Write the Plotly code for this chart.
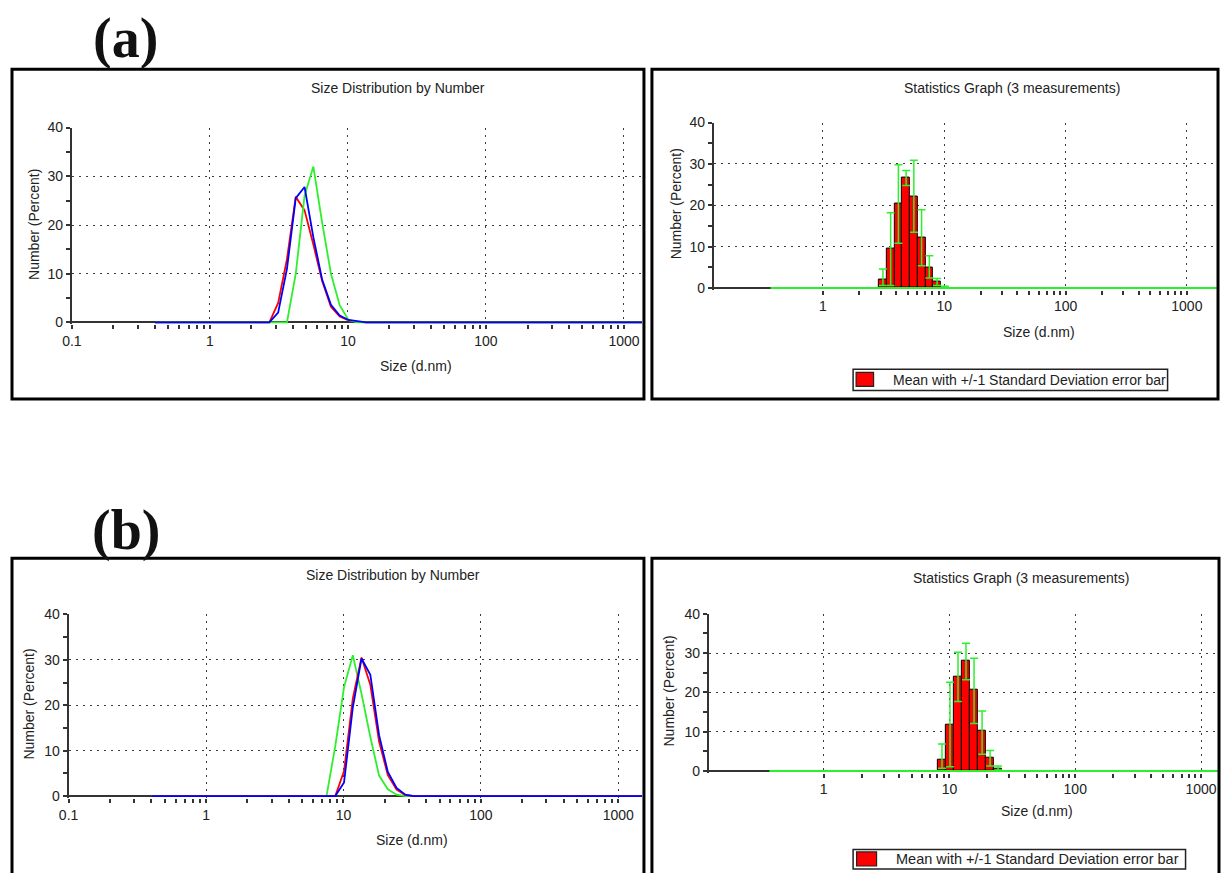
import numpy as np
import plotly.graph_objects as go

# ---------------- data ----------------
# (a) Size distribution by number, three runs
A_SIZES = [0.4, 2.696, 3.122, 3.615, 4.187, 4.849, 5.615, 6.503, 7.531, 8.721, 10.1, 11.7, 13.54, 10000]
A_RED   = [0, 0, 4.0, 13.0, 25.8, 23.0, 16.0, 8.5, 3.2, 1.2, 0.4, 0.1, 0, 0]
A_GREEN = [0, 0, 0, 0, 10.0, 26.0, 32.0, 20.5, 10.0, 3.5, 0.5, 0, 0, 0]
A_BLUE  = [0, 0, 2.0, 11.0, 25.5, 27.8, 17.5, 8.8, 3.6, 1.4, 0.5, 0.2, 0, 0]

# (b) Size distribution by number, three runs
B_SIZES = [0.4, 6.503, 7.531, 8.721, 10.1, 11.7, 13.54, 15.69, 18.17, 21.04, 24.36, 28.21, 32.67, 10000]
B_GREEN = [0, 0, 0, 11.0, 24.0, 31.0, 22.5, 13.0, 4.5, 1.5, 0.3, 0, 0, 0]
B_RED   = [0, 0, 0, 0, 5.5, 21.5, 30.5, 24.5, 12.0, 4.6, 1.4, 0.2, 0, 0]
B_BLUE  = [0, 0, 0, 0, 3.0, 19.5, 30.3, 26.7, 13.4, 5.3, 1.8, 0.3, 0, 0]

# Statistics graphs: mean of 3 measurements with +/- 1 SD
A_STAT_SIZES = [3.122, 3.615, 4.187, 4.849, 5.615, 6.503, 7.531, 8.721, 10.1]
A_STAT_MEAN  = [2.0, 9.5, 20.3, 26.6, 22.2, 12.3, 5.0, 1.5, 0.2]
A_STAT_PLUS  = [2.6, 8.7, 9.5, 1.8, 8.7, 6.6, 2.8, 0.8, 0.2]
A_STAT_MINUS = [1.4, 8.9, 9.5, 1.8, 8.7, 6.9, 2.6, 0.9, 0.2]

B_STAT_SIZES = [8.721, 10.1, 11.7, 13.54, 15.69, 18.17, 21.04, 24.36]
B_STAT_MEAN  = [2.8, 11.9, 24.0, 28.1, 20.6, 10.2, 3.4, 0.7]
B_STAT_PLUS  = [4.1, 10.7, 6.2, 4.4, 8.1, 5.1, 1.8, 0.6]
B_STAT_MINUS = [2.1, 10.8, 6.3, 4.9, 8.5, 5.9, 2.1, 0.4]

BASELINE_SIZES = [0.37, 10000]
BASELINE_VALUES = [0, 0]

LOG_TICKS = [0.1, 1, 10, 100, 1000]
LOG_TICK_TEXT = ["0.1", "1", "10", "100", "1000"]
STAT_TICKS = [1, 10, 100, 1000]
STAT_TICK_TEXT = ["1", "10", "100", "1000"]
Y_TICKS = [0, 10, 20, 30, 40]
Y_MINOR = [5, 15, 25, 35]
MINOR_LEFT = [m * d for d in (0.1, 1, 10, 100, 1000) for m in range(2, 10)]
MINOR_RIGHT = [m * d for d in (1, 10, 100, 1000) for m in range(2, 10)]

# ---------------- layout helpers ----------------
W, H = 1221, 873
OFF = 8.0              # page offset of the plot in the photographed page
PW, PH = W - OFF, H - 2 * OFF
def PX(px):
    return (px - OFF) / PW
def PY(py):
    return 1 - (py - OFF) / PH

FONT = "Liberation Sans, Arial, sans-serif"
TXT = "#222222"
RED, GREEN, BLUE = "#ff0000", "#2df02d", "#0000ff"
AX = "#333333"
YPAD = 0.4  # small pad below zero so lines on y=0 are not clipped

fig = go.Figure()

panels = {
    "1": dict(xl=70.0, xr=641.0, lo=-1.0, hi=-1 + (641.0 - 70.0) / 138.25, y0=321.7, y40=127.3, kind="log"),
    "2": dict(xl=713.0, xr=1218.0, lo=(713.0 - 822.3) / 121.5, hi=(1218.0 - 822.3) / 121.5, y0=287.3, y40=122.3, kind="lin"),
    "3": dict(xl=66.7, xr=641.0, lo=-1.0, hi=-1 + (641.0 - 66.7) / 137.65, y0=794.2, y40=613.0, kind="log"),
    "4": dict(xl=708.0, xr=1219.0, lo=(708.0 - 823.0) / 126.0, hi=(1219.0 - 823.0) / 126.0, y0=769.3, y40=612.3, kind="lin"),
}

def axis_names(k):
    return ("x" if k == "1" else "x" + k), ("y" if k == "1" else "y" + k)

layout_axes = {}
for k, p in panels.items():
    unit = (p["y0"] - p["y40"]) / 40.0
    ybottom = p["y0"] + YPAD * unit
    xa_name = "xaxis" if k == "1" else "xaxis" + k
    ya_name = "yaxis" if k == "1" else "yaxis" + k
    xn, yn = axis_names(k)
    common_x = dict(
        domain=[PX(p["xl"]), min(1.0, PX(p["xr"]))], anchor=yn, showline=False, zeroline=False,
        ticks="outside", ticklen=4, tickwidth=2, tickcolor=AX, ticklabeloverflow="allow",
        showgrid=True, gridcolor="#3c3c3c", gridwidth=1, griddash="2px,5px",
        tickfont=dict(family=FONT, size=14, color=TXT), layer="below traces", fixedrange=True,
    )
    hi = p["hi"]
    if PX(p["xr"]) > 1.0:
        hi = p["lo"] + (p["hi"] - p["lo"]) * (1.0 - PX(p["xl"])) / (PX(p["xr"]) - PX(p["xl"]))
    if p["kind"] == "log":
        common_x.update(type="log", range=[p["lo"], hi], tickvals=LOG_TICKS, ticktext=LOG_TICK_TEXT,
                        minor=dict(tickvals=MINOR_LEFT, ticks="outside", ticklen=4, tickwidth=2,
                                   tickcolor=AX, showgrid=False))
    else:
        common_x.update(type="linear", range=[p["lo"], hi],
                        tickvals=list(np.log10(STAT_TICKS)), ticktext=STAT_TICK_TEXT,
                        minor=dict(tickvals=list(np.log10(MINOR_RIGHT)), ticks="outside", ticklen=4,
                                   tickwidth=2, tickcolor=AX, showgrid=False))
    layout_axes[xa_name] = common_x
    layout_axes[ya_name] = dict(
        domain=[PY(ybottom), PY(p["y40"])], anchor=xn, range=[-YPAD, 40],
        tickvals=Y_TICKS, showline=True, linecolor=AX, linewidth=2,
        zeroline=True, zerolinecolor=AX, zerolinewidth=2,
        ticks="outside", ticklen=4, tickwidth=2, tickcolor=AX,
        minor=dict(tickvals=Y_MINOR, ticks="outside", ticklen=4, tickwidth=2, tickcolor=AX, showgrid=False),
        showgrid=True, gridcolor="#3c3c3c", gridwidth=1, griddash="2px,5px",
        tickfont=dict(family=FONT, size=14, color=TXT), layer="below traces", fixedrange=True,
    )

# ---------------- traces ----------------
def add_dist(k, sizes, series):
    xn, yn = axis_names(k)
    for vals, col in series:
        fig.add_trace(go.Scatter(x=sizes, y=vals, mode="lines", xaxis=xn, yaxis=yn,
                                 line=dict(color=col, width=1.8), showlegend=False, hoverinfo="skip"))

add_dist("1", A_SIZES, [(A_RED, RED), (A_GREEN, GREEN), (A_BLUE, BLUE)])
add_dist("3", B_SIZES, [(B_GREEN, GREEN), (B_RED, RED), (B_BLUE, BLUE)])

def add_stats(k, sizes, mean, plus, minus):
    xn, yn = axis_names(k)
    fig.add_trace(go.Scatter(x=np.log10(BASELINE_SIZES), y=BASELINE_VALUES, mode="lines",
                             xaxis=xn, yaxis=yn, line=dict(color=GREEN, width=2),
                             showlegend=False, hoverinfo="skip"))
    fig.add_trace(go.Bar(x=np.log10(sizes), y=mean, width=0.0637, xaxis=xn, yaxis=yn,
                         marker=dict(color=RED, line=dict(color="black", width=1)),
                         error_y=dict(type="data", symmetric=False, array=plus, arrayminus=minus,
                                      color=GREEN, thickness=1.5, width=4),
                         showlegend=False, hoverinfo="skip"))

add_stats("2", A_STAT_SIZES, A_STAT_MEAN, A_STAT_PLUS, A_STAT_MINUS)
add_stats("4", B_STAT_SIZES, B_STAT_MEAN, B_STAT_PLUS, B_STAT_MINUS)

# ---------------- frames, legends, texts ----------------
shapes = []
def rect(x0, y0, x1, y1, lw=3, lc="black", fill=None):
    d = dict(type="rect", xref="paper", yref="paper", x0=PX(x0), x1=PX(x1), y0=PY(y1), y1=PY(y0),
             line=dict(color=lc, width=lw), layer="above")
    if fill:
        d["fillcolor"] = fill
    shapes.append(d)

rect(10, 69, 643, 398)
rect(651, 69, 1218, 398)
rect(10, 557, 643, 890)
rect(651, 557, 1219, 890)
rect(852.5, 368.5, 1167.5, 389.5, lw=1.5, lc="#222")
rect(855.5, 371.5, 873, 385.5, lw=1.2, lc="#222", fill=RED)
rect(852.5, 847.5, 1185.5, 867, lw=1.5, lc="#222")
rect(856, 850, 876, 864, lw=1.2, lc="#222", fill=RED)

ann = []
def text(t, x, y, size=14, angle=0, xanchor="center", fam=FONT, color=TXT):
    ann.append(dict(text=t, x=PX(x), y=PY(y), xref="paper", yref="paper", showarrow=False,
                    xanchor=xanchor, yanchor="middle", textangle=angle,
                    font=dict(family=fam, size=size, color=color)))

text("<b>(a)</b>", 124, 38, size=56, fam="Liberation Serif, Times New Roman, serif", color="#111")
text("<b>(b)</b>", 124, 529, size=56, fam="Liberation Serif, Times New Roman, serif", color="#111")

text("Size Distribution by Number", 397, 87.5)
text("Size (d.nm)", 415, 365)
text("Number (Percent)", 31.5, 224, angle=-90)

text("Statistics Graph (3 measurements)", 1012, 87.5)
text("Size (d.nm)", 1039, 331)
text("Number (Percent)", 676, 203, angle=-90)
text("Mean with +/-1 Standard Deviation error bar", 890.5, 379.5, xanchor="left")

text("Size Distribution by Number", 392, 574)
text("Size (d.nm)", 411, 838)
text("Number (Percent)", 27, 702, angle=-90)

text("Statistics Graph (3 measurements)", 1021, 577)
text("Size (d.nm)", 1037, 809)
text("Number (Percent)", 668, 689, angle=-90)
text("Mean with +/-1 Standard Deviation error bar", 893, 857.5, xanchor="left", size=14.5)

fig.update_layout(
    width=W, height=H, margin=dict(l=0, r=0, t=0, b=0),
    paper_bgcolor="white", plot_bgcolor="white", showlegend=False,
    shapes=shapes, annotations=ann, barmode="overlay", bargap=0,
    **layout_axes,
)

fig.write_html("out.html")
